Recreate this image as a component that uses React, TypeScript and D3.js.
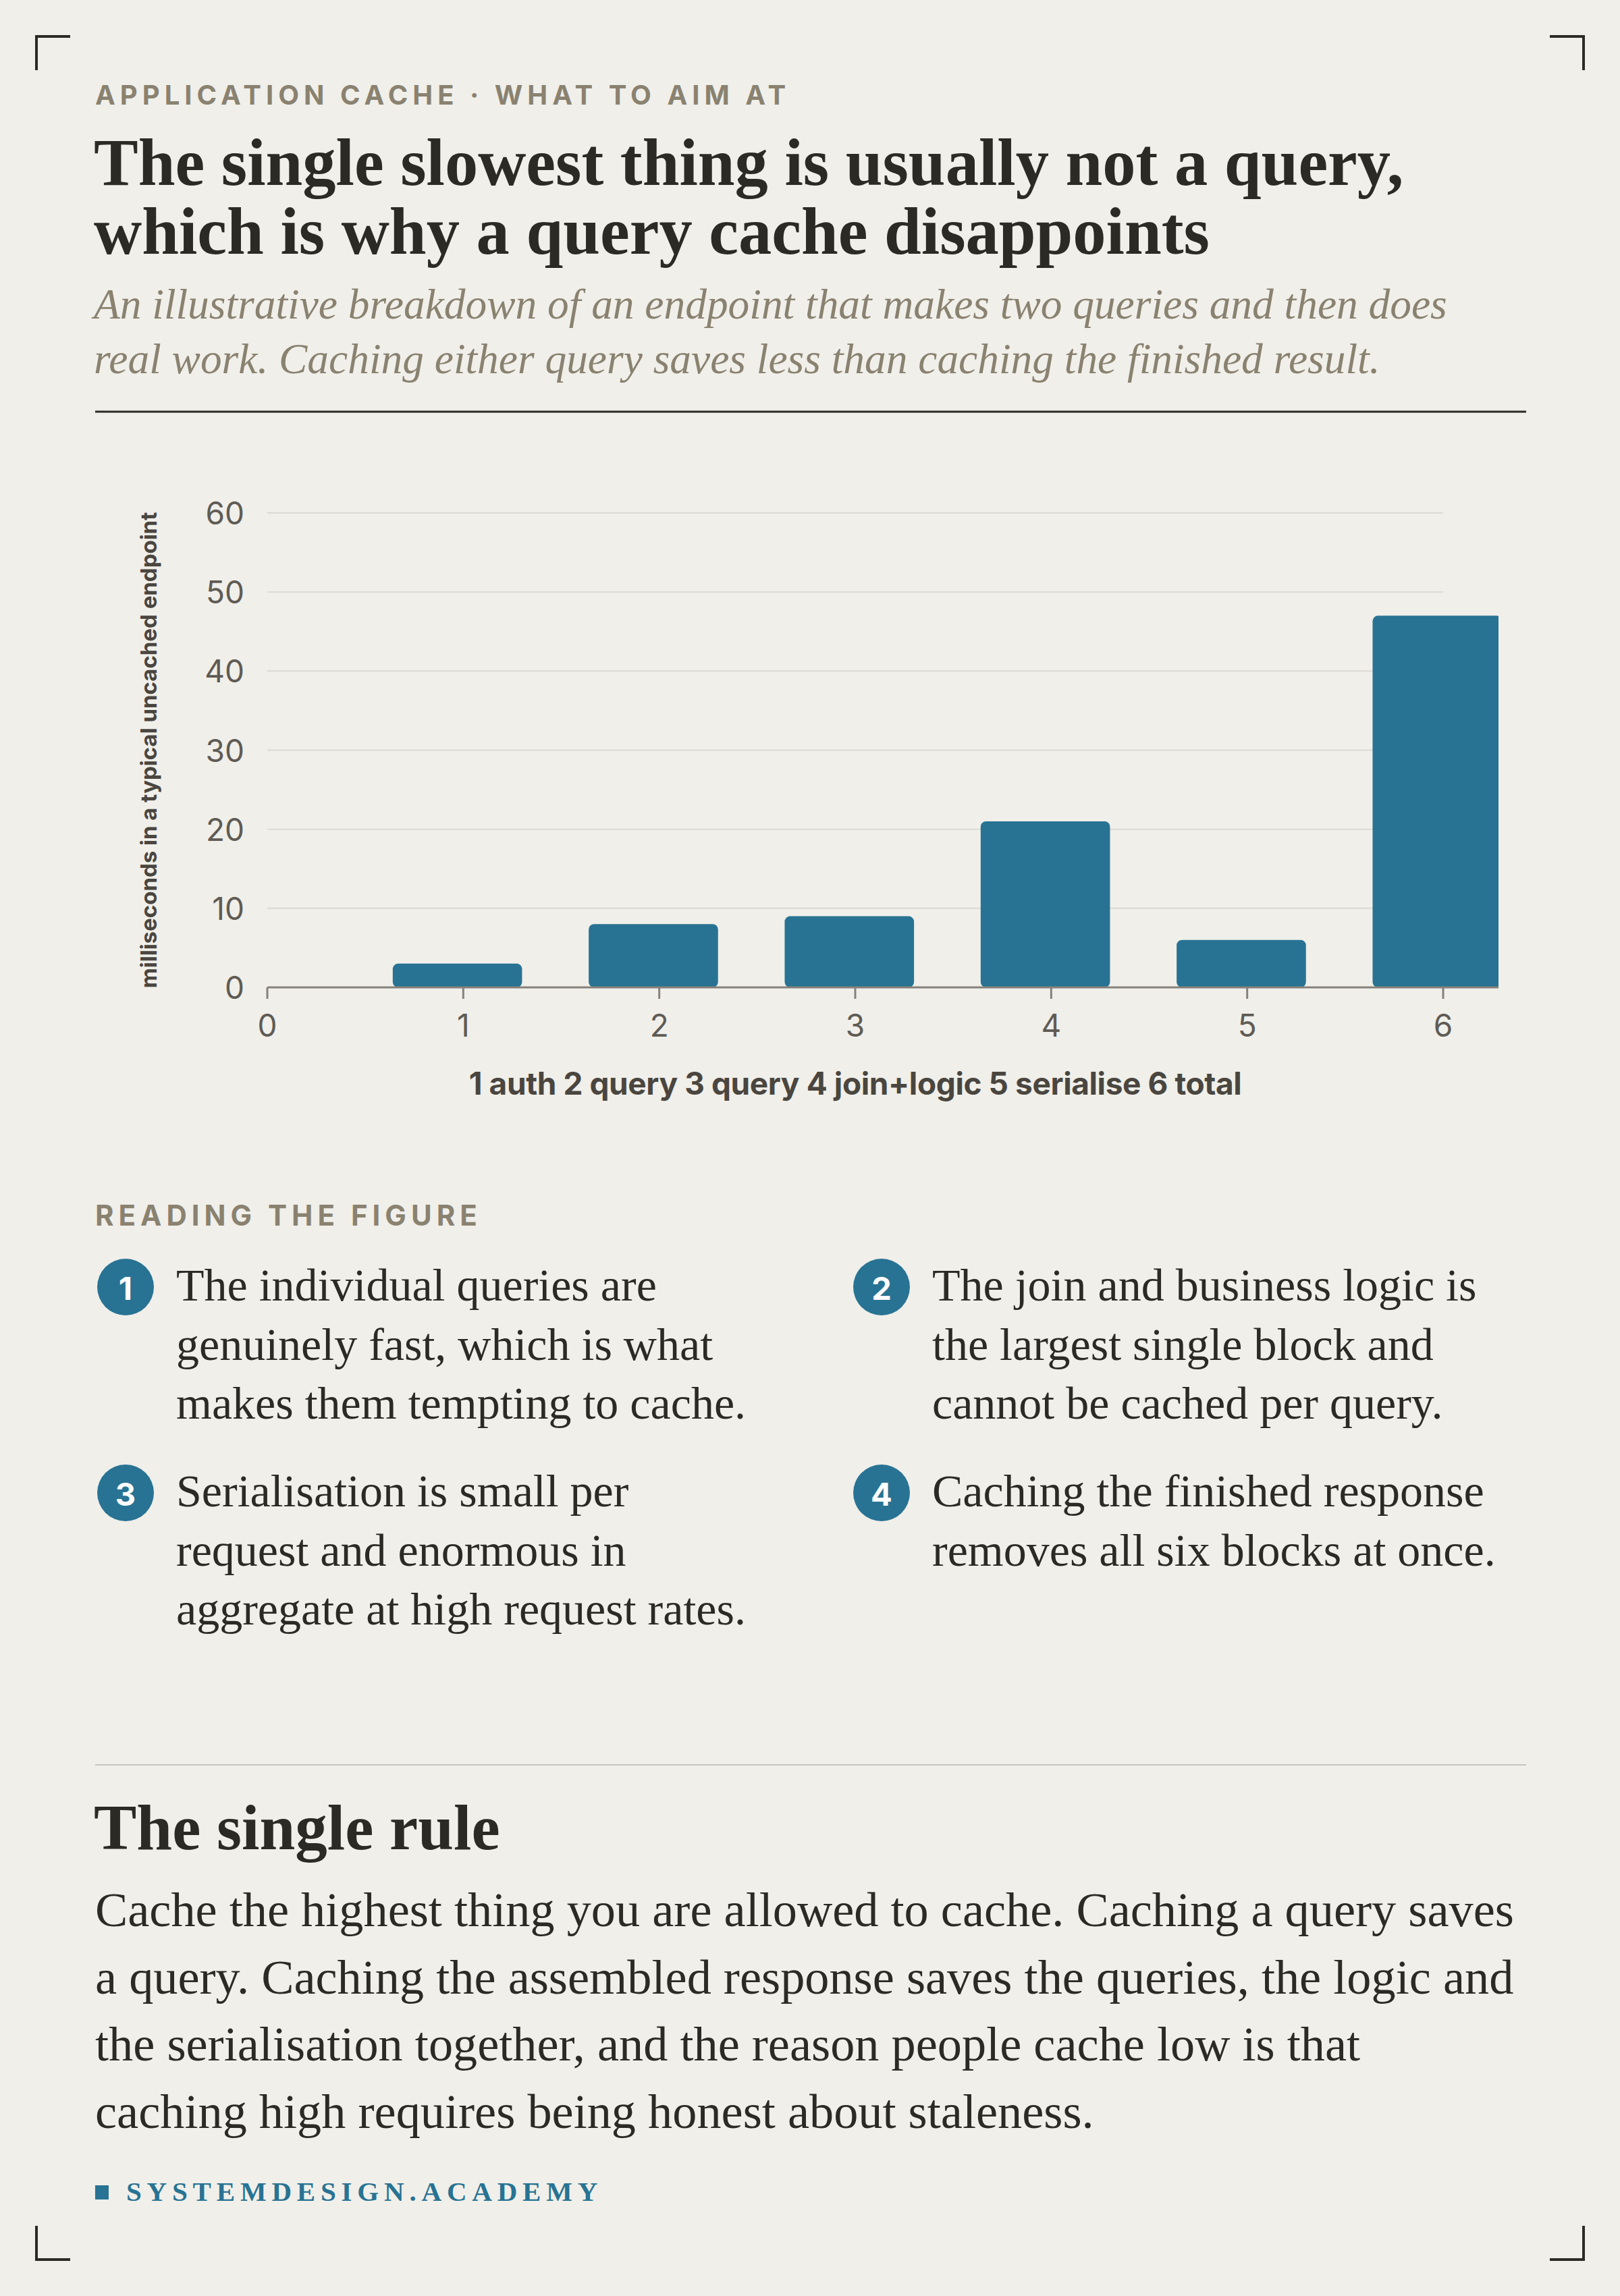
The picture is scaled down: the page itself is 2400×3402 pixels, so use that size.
import React from 'react';
import * as d3 from 'd3';

// values (ms per block)
const categories = ['auth', 'query', 'query', 'join+logic', 'serialise', 'total'];
const values = [3, 8, 9, 21, 6, 47];
const yTicks = [0, 10, 20, 30, 40, 50, 60];
const xTicks = [0, 1, 2, 3, 4, 5, 6];

const kicker = 'APPLICATION CACHE · WHAT TO AIM AT';
const titleLines = [
  'The single slowest thing is usually not a query,',
  'which is why a query cache disappoints',
];
const subtitleLines = [
  'An illustrative breakdown of an endpoint that makes two queries and then does',
  'real work. Caching either query saves less than caching the finished result.',
];
const yTitle = 'milliseconds in a typical uncached endpoint';

const notes = [
  ['The individual queries are', 'genuinely fast, which is what', 'makes them tempting to cache.'],
  ['The join and business logic is', 'the largest single block and', 'cannot be cached per query.'],
  ['Serialisation is small per', 'request and enormous in', 'aggregate at high request rates.'],
  ['Caching the finished response', 'removes all six blocks at once.'],
];

const ruleTitle = 'The single rule';
const ruleLines = [
  'Cache the highest thing you are allowed to cache. Caching a query saves',
  'a query. Caching the assembled response saves the queries, the logic and',
  'the serialisation together, and the reason people cache low is that',
  'caching high requires being honest about staleness.',
];

const W = 2400;
const H = 3402;
const BG = '#f0efea';
const INK = '#2b2a24';
const MUTED = '#8a8270';
const BLUE = '#287393';
const SERIF = '"Liberation Serif", serif';
const SANS = 'Inter, "Noto Sans", sans-serif';

const App: React.FC = () => {
  const x = d3.scaleLinear().domain([0, 6]).range([396, 2138]);
  const y = d3.scaleLinear().domain([0, 60]).range([1463, 760]);
  const barW = x(0.66) - x(0);
  const plotRight = 2220;

  const xTitle = categories.map((c, i) => `${i + 1} ${c}`).join(' ');

  const corner = (cx: number, cy: number, sx: number, sy: number) =>
    `M${cx},${cy + sy * 50} V${cy} H${cx + sx * 50}`;

  return (
    <svg
      width={W}
      height={H}
      viewBox={`0 0 ${W} ${H}`}
      style={{ position: 'absolute', left: 0, top: 0, display: 'block' }}
    >
      <rect width={W} height={H} fill={BG} />

      {/* corner marks */}
      <g fill="none" stroke={INK} strokeWidth={4}>
        <path d={corner(54, 54, 1, 1)} />
        <path d={corner(2346, 54, -1, 1)} />
        <path d={corner(54, 3348, 1, -1)} />
        <path d={corner(2346, 3348, -1, -1)} />
      </g>

      {/* header */}
      <text x={141} y={155} fontFamily={SANS} fontWeight={700} fontSize={40} letterSpacing={7} fill={MUTED}>
        {kicker}
      </text>
      {titleLines.map((t, i) => (
        <text key={t} x={139} y={274 + i * 102} fontFamily={SERIF} fontWeight={700} fontSize={98.5} fill={INK}>
          {t}
        </text>
      ))}
      {subtitleLines.map((t, i) => (
        <text key={t} x={139} y={472 + i * 81} fontFamily={SERIF} fontStyle="italic" fontSize={63.4} fill={MUTED}>
          {t}
        </text>
      ))}
      <line x1={141} x2={2261} y1={610} y2={610} stroke={INK} strokeWidth={3} />

      {/* chart */}
      <defs>
        <clipPath id="plot-clip">
          <rect x={0} y={0} width={plotRight} height={H} />
        </clipPath>
      </defs>
      <g>
        {yTicks.filter((t) => t > 0).map((t) => (
          <line key={t} x1={x(0)} x2={x(6)} y1={y(t)} y2={y(t)} stroke="#dcd9d2" strokeWidth={2} />
        ))}
        {yTicks.map((t) => (
          <text
            key={t}
            x={362}
            y={y(t)}
            textAnchor="end"
            dominantBaseline="central"
            fontFamily={SANS}
            fontSize={46}
            fill="#5f5b54"
          >
            {t}
          </text>
        ))}
        <g clipPath="url(#plot-clip)">
          {values.map((v, i) => (
            <rect
              key={i}
              x={x(i + 1 - 0.36)}
              y={y(v)}
              width={barW}
              height={y(0) - y(v)}
              rx={8}
              fill={BLUE}
            />
          ))}
        </g>
        <line x1={x(0)} x2={plotRight} y1={y(0)} y2={y(0)} stroke="#86827a" strokeWidth={3} />
        {xTicks.map((t) => (
          <g key={t}>
            <line x1={x(t)} x2={x(t)} y1={y(0)} y2={y(0) + 17} stroke="#86827a" strokeWidth={3} />
            <text x={x(t)} y={1536} textAnchor="middle" fontFamily={SANS} fontSize={46} fill="#5f5b54">
              {t}
            </text>
          </g>
        ))}
        <text
          x={(x(0) + x(6)) / 2}
          y={1622}
          textAnchor="middle"
          fontFamily={SANS}
          fontWeight={700}
          fontSize={46}
          letterSpacing={-0.4}
          fill="#4a463f"
        >
          {xTitle}
        </text>
        <text
          transform={`translate(232, ${(y(0) + y(60)) / 2}) rotate(-90)`}
          textAnchor="middle"
          fontFamily={SANS}
          fontWeight={700}
          fontSize={33}
          fill="#4a463f"
        >
          {yTitle}
        </text>
      </g>

      {/* reading the figure */}
      <text x={141} y={1816} fontFamily={SANS} fontWeight={700} fontSize={42} letterSpacing={7} fill={MUTED}>
        READING THE FIGURE
      </text>
      {notes.map((lines, i) => {
        const col = i % 2;
        const row = Math.floor(i / 2);
        const cx = 186 + col * 1120;
        const cy = 1907 + row * 305;
        return (
          <g key={i}>
            <circle cx={cx} cy={cy} r={42} fill={BLUE} />
            <text
              x={cx}
              y={cy + 1}
              textAnchor="middle"
              dominantBaseline="central"
              fontFamily={SANS}
              fontWeight={700}
              fontSize={47}
              fill="#fff"
            >
              {i + 1}
            </text>
            {lines.map((l, j) => (
              <text key={j} x={cx + 75} y={cy + 20 + j * 87.5} fontFamily={SERIF} fontSize={68} fill={INK}>
                {l}
              </text>
            ))}
          </g>
        );
      })}

      {/* the single rule */}
      <line x1={141} x2={2261} y1={2615} y2={2615} stroke="#c9c6be" strokeWidth={2} />
      <text x={139} y={2740} fontFamily={SERIF} fontWeight={700} fontSize={95} fill={INK}>
        {ruleTitle}
      </text>
      {ruleLines.map((l, i) => (
        <text key={i} x={141} y={2854 + i * 99.7} fontFamily={SERIF} fontSize={72.3} fill={INK}>
          {l}
        </text>
      ))}

      {/* footer */}
      <rect x={141} y={3238} width={20} height={21} fill={BLUE} />
      <text x={187} y={3261} fontFamily={SERIF} fontWeight={700} fontSize={41} letterSpacing={7.8} fill={BLUE}>
        SYSTEMDESIGN.ACADEMY
      </text>
    </svg>
  );
};

export default App;
